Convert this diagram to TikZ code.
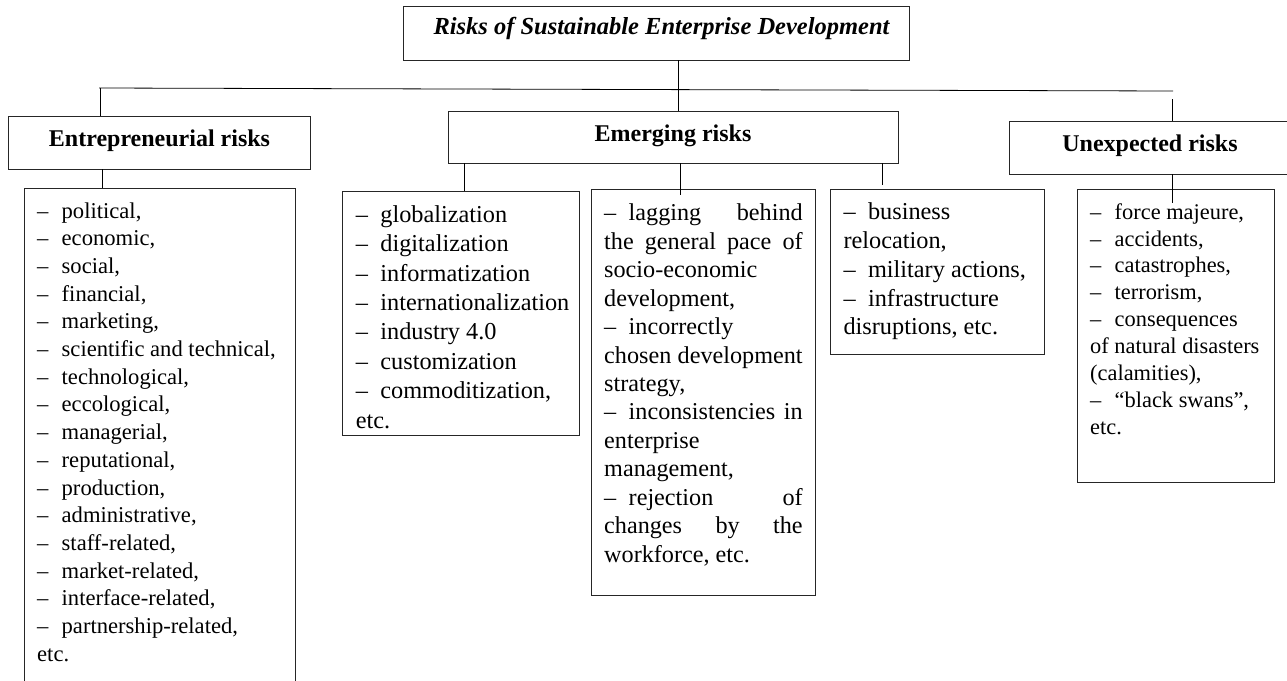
\documentclass[tikz,border=0pt]{standalone}
\usepackage{fontspec}
\setmainfont{Liberation Serif}
\newcommand\lidash{\makebox[24.5pt][l]{\textendash}}
\newcommand\jline[1]{\leavevmode\hbox to 198.5pt{#1}}
\begin{document}
\begin{tikzpicture}[x=1pt,y=-1pt,
  box/.style={draw=black!85, line width=0.9pt, inner sep=0pt, rectangle},
  conn/.style={draw=black, line width=0.8pt},
  hdr/.style={anchor=base, inner sep=0pt, font=\fontsize{24}{28}\selectfont\bfseries},
  lst/.style={anchor=base west, inner sep=0pt}]
\useasboundingbox (0,0) rectangle (1287,680);
% boxes
\node[box, minimum width=506pt, minimum height=54pt] (top) at (656,33) {};
\node[box, minimum width=302pt, minimum height=53pt] (ent) at (159,142.5) {};
\node[box, minimum width=450pt, minimum height=52pt] (eme) at (673,137) {};
\node[box, minimum width=283pt, minimum height=53pt] (unx) at (1150.5,147.5) {};
\node[box, minimum width=271pt, minimum height=497pt] (entL) at (159.5,436.5) {};
\node[box, minimum width=237pt, minimum height=244pt] (glob) at (460.5,313) {};
\node[box, minimum width=224pt, minimum height=406pt] (mid) at (703,392) {};
\node[box, minimum width=214pt, minimum height=165pt] (thr) at (937,271.5) {};
\node[box, minimum width=197pt, minimum height=293pt] (unL) at (1175.5,335.5) {};
% headings
\node[anchor=base, inner sep=0pt, font=\fontsize{24.5}{29}\selectfont\bfseries\itshape] (topT) at (661.5,34) {Risks of Sustainable Enterprise Development};
\node[hdr] (entH) at (159.5,146) {Entrepreneurial risks};
\node[hdr] (emeH) at (673,141.7) {Emerging risks};
\node[hdr] (unxH) at (1150,151) {Unexpected risks};
% lists
\node[lst] (entLT) at (37,218) {\parbox[t]{255pt}{\fontsize{22.6}{27.7}\selectfont\raggedright
\lidash political,\\
\lidash economic,\\
\lidash social,\\
\lidash financial,\\
\lidash marketing,\\
\lidash scientific and technical,\\
\lidash technological,\\
\lidash eccological,\\
\lidash managerial,\\
\lidash reputational,\\
\lidash production,\\
\lidash administrative,\\
\lidash staff-related,\\
\lidash market-related,\\
\lidash interface-related,\\
\lidash partnership-related,\\
etc.}};
\node[lst] (globT) at (355.7,222.3) {\parbox[t]{230pt}{\fontsize{24.3}{29.4}\selectfont\raggedright
\lidash globalization\\
\lidash digitalization\\
\lidash informatization\\
\lidash internationalization\\
\lidash industry 4.0\\
\lidash customization\\
\lidash commoditization,\\
etc.}};
\node[lst] (midT) at (604,220.7) {\parbox[t]{198.5pt}{\fontsize{24.2}{28.47}\selectfont\raggedright
\jline{\lidash lagging\hfill behind}\\
\jline{the\hfill general\hfill pace\hfill of}\\
socio-economic\\
development,\\
\lidash incorrectly\\
\jline{chosen\hfill development}\\
strategy,\\
\jline{\lidash inconsistencies\hfill in}\\
enterprise\\
management,\\
\jline{\lidash rejection\hfill of}\\
\jline{changes\hfill by\hfill the}\\
workforce, etc.}};
\node[lst] (thrT) at (843.3,219.3) {\parbox[t]{200pt}{\fontsize{24.3}{28.9}\selectfont\raggedright
\lidash business\\
relocation,\\
\lidash military actions,\\
\lidash infrastructure\\
disruptions, etc.}};
\node[lst] (unLT) at (1090,219.3) {\parbox[t]{190pt}{\fontsize{22.4}{26.84}\selectfont\raggedright
\lidash force majeure,\\
\lidash accidents,\\
\lidash catastrophes,\\
\lidash terrorism,\\
\lidash consequences\\
of natural disasters\\
(calamities),\\
\lidash “black swans”,\\
etc.}};
% connector coordinates
\coordinate (j1) at (678,88);
\coordinate (hl) at (99,88);
\coordinate (hr) at (1173,91);
\coordinate (lv) at (100,88);
\coordinate (ur) at (1172,99);
\coordinate (c1) at (102,0);
\coordinate (g1) at (464,0);
\coordinate (m1) at (680,195);
\coordinate (t1) at (882,185);
\coordinate (u1) at (1172,203);
% connectors
\draw[conn] (top.south -| j1) -- (eme.north -| j1);
\draw[conn] (hl) -- (hr);
\draw[conn] (lv) -- (ent.north -| lv);
\draw[conn] (ur) -- (unx.north -| ur);
\draw[conn] (ent.south -| c1) -- (entL.north -| c1);
\draw[conn] (eme.south -| g1) -- (glob.north -| g1);
\draw[conn] (eme.south -| m1) -- (m1);
\draw[conn] (eme.south -| t1) -- (t1);
\draw[conn] (unx.south -| u1) -- (u1);
\end{tikzpicture}
\end{document}
